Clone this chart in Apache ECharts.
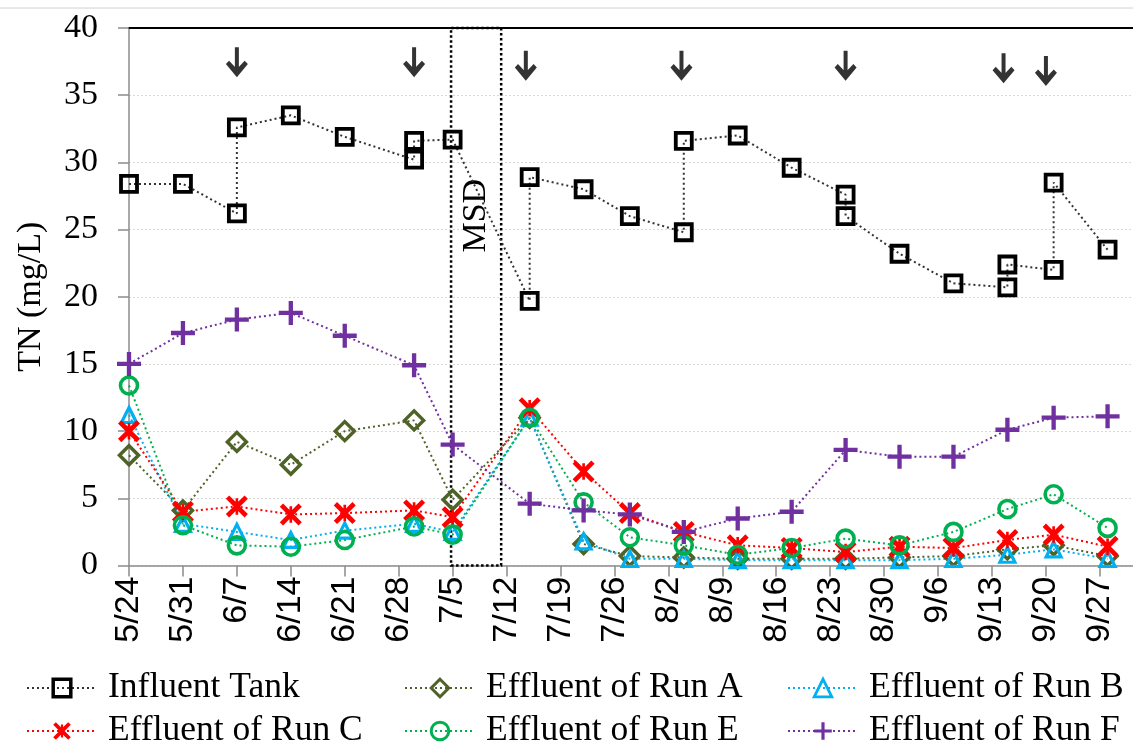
<!DOCTYPE html>
<html>
<head>
<meta charset="utf-8">
<script src="https://cdn.jsdelivr.net/npm/echarts@6/dist/echarts.min.js"></script>
<style>
  html, body { margin: 0; padding: 0; background: #ffffff; }
  #chart { width: 1133px; height: 749px; }
</style>
</head>
<body>
<div id="chart"></div>
<script>
// x positions are days counted from 5/24
const tickDays = [0, 7, 14, 21, 28, 35, 42, 49, 56, 63, 70, 77, 84, 91, 98, 105, 112, 119, 126];
const tickLabels = ['5/24', '5/31', '6/7', '6/14', '6/21', '6/28', '7/5', '7/12', '7/19', '7/26',
  '8/2', '8/9', '8/16', '8/23', '8/30', '9/6', '9/13', '9/20', '9/27'];

// influent tank: two samples on the days marked with an arrow
const influentDays = [0, 7, 14, 14, 21, 28, 37, 37, 42, 52, 52, 59, 65, 72, 72, 79, 86, 93, 93, 100, 107, 114, 114, 120, 120, 127];
const influentTN = [28.4, 28.4, 26.2, 32.6, 33.5, 31.9, 30.2, 31.6, 31.7, 19.7, 28.9, 28.0, 26.0, 24.8, 31.6,
  32.0, 29.6, 27.6, 26.0, 23.2, 21.0, 20.7, 22.4, 22.0, 28.5, 23.5];

// effluent sampling days
const effluentDays = [0, 7, 14, 21, 28, 37, 42, 52, 59, 65, 72, 79, 86, 93, 100, 107, 114, 120, 127];
const runA = [8.2, 4.1, 9.2, 7.5, 10.0, 10.8, 4.9, 11.0, 1.6, 0.7, 0.6, 0.5, 0.5, 0.5, 0.6, 0.7, 1.2, 1.5, 0.7];
const runB = [11.2, 3.1, 2.5, 1.9, 2.6, 3.1, 2.5, 11.0, 1.8, 0.5, 0.5, 0.4, 0.4, 0.4, 0.4, 0.5, 0.8, 1.2, 0.5];
const runC = [10.0, 4.0, 4.4, 3.8, 3.9, 4.1, 3.6, 11.7, 7.0, 3.9, 2.5, 1.5, 1.3, 1.0, 1.4, 1.3, 1.9, 2.3, 1.4];
const runE = [13.4, 3.0, 1.5, 1.4, 1.9, 2.9, 2.3, 11.0, 4.7, 2.1, 1.5, 0.8, 1.3, 2.0, 1.5, 2.5, 4.2, 5.3, 2.8];
const runF = [15.0, 17.3, 18.3, 18.8, 17.1, 14.9, 9.0, 4.6, 4.1, 3.8, 2.5, 3.5, 4.0, 8.6, 8.1, 8.1, 10.1, 11.0, 11.1];

// arrows above the double samples
const arrowDays = [14, 37, 51.5, 71.7, 93, 113.5, 119];
const arrowY = [37.45, 37.45, 37.2, 37.2, 37.2, 37.0, 36.8];

// MSD box
const msdRange = [41.8, 48.3];

const serif = 'Liberation Serif';
const sans = 'Liberation Sans';

const pairs = (xs, ys) => xs.map((x, i) => [x, ys[i]]);

const crossPath = 'path://M0,3 L3,0 L10,7 L17,0 L20,3 L13,10 L20,17 L17,20 L10,13 L3,20 L0,17 L7,10 Z M8.8,2.5 L11.2,2.5 L11.2,17.5 L8.8,17.5 Z';
const plusPath = 'path://M8.2,0 L11.8,0 L11.8,8.2 L20,8.2 L20,11.8 L11.8,11.8 L11.8,20 L8.2,20 L8.2,11.8 L0,11.8 L0,8.2 L8.2,8.2 Z';
const arrowPath = 'path://M9,0 L13,0 L13,26 L9,26 Z M0,16 L3.2,12.8 L11,20.6 L18.8,12.8 L22,16 L11,28.5 Z';

const hollow = (color, width) => ({ color: 'rgba(255,255,255,0)', borderColor: color, borderWidth: width });

function lineSeries(name, data, lineColor, symbol, size, itemStyle) {
  return {
    name: name,
    type: 'line',
    data: data,
    symbol: symbol,
    symbolSize: size,
    clip: false,
    lineStyle: { color: lineColor, width: 2, type: [2, 3] },
    itemStyle: itemStyle,
    emphasis: { disabled: true },
    z: 3
  };
}

const chart = echarts.init(document.getElementById('chart'));

// one legend per entry, laid out in 2 rows x 3 columns
const legendCols = [26, 404, 787];
const legendRows = [669, 712];
const legendNames = [
  ['Influent Tank', 'Effluent of Run A', 'Effluent of Run B'],
  ['Effluent of Run C', 'Effluent of Run E', 'Effluent of Run F']
];
// hollow markers get a heavier outline in the legend
const legendBorder = [[3.5, 3, 2.8], [0, 3, 0]];
const legends = [];
legendNames.forEach((row, r) => {
  row.forEach((name, c) => {
    const legend = {
      left: legendCols[c],
      top: legendRows[r],
      padding: 0,
      itemWidth: 70,
      itemHeight: 22,
      selectedMode: false,
      textStyle: { fontFamily: serif, fontSize: 35.5, color: '#000', lineHeight: 38, padding: [0, 0, 0, 6] },
      data: [name]
    };
    if (legendBorder[r][c]) legend.itemStyle = { borderWidth: legendBorder[r][c] };
    legends.push(legend);
  });
});

const option = {
  animation: false,
  backgroundColor: '#ffffff',
  grid: { left: 129, top: 28, right: 0, bottom: 183.5, containLabel: false },
  legend: legends,
  graphic: [
    { type: 'line', shape: { x1: 0, y1: 8, x2: 1133, y2: 8 }, style: { stroke: '#d0d0d0', lineWidth: 1 }, silent: true }
  ],
  xAxis: [
    {
      type: 'value',
      min: 0,
      max: 130.3,
      axisLine: { show: true, lineStyle: { color: '#8c8c8c', width: 1.5 } },
      axisTick: { show: true, length: 11, lineStyle: { color: '#8c8c8c', width: 1.5 }, customValues: tickDays },
      axisLabel: {
        customValues: tickDays,
        formatter: v => tickLabels[tickDays.indexOf(v)] || '',
        rotate: 90,
        margin: 11,
        fontFamily: sans,
        fontSize: 34,
        color: '#000'
      },
      splitLine: { show: false }
    },
    {
      type: 'value',
      position: 'top',
      min: 0,
      max: 130.3,
      axisLine: { show: true, lineStyle: { color: '#000', width: 2 } },
      axisTick: { show: false },
      axisLabel: { show: false },
      splitLine: { show: false }
    }
  ],
  yAxis: {
    type: 'value',
    min: 0,
    max: 40,
    interval: 5,
    name: 'TN (mg/L)',
    nameLocation: 'middle',
    nameRotate: 90,
    nameGap: 81,
    nameTextStyle: { fontFamily: serif, fontSize: 34, color: '#000' },
    axisLine: { show: true, lineStyle: { color: '#8c8c8c', width: 1.5 } },
    axisTick: { show: true, length: 11, lineStyle: { color: '#8c8c8c', width: 1.5 } },
    axisLabel: { margin: 31, fontFamily: serif, fontSize: 34, color: '#000' },
    splitLine: { show: true, lineStyle: { color: '#d9d9d9', width: 1, type: [2, 2] } }
  },
  series: [
    Object.assign(lineSeries('Influent Tank', pairs(influentDays, influentTN), '#333333', 'rect', 16, hollow('#000000', 3.8)), {
      markArea: {
        silent: true,
        itemStyle: { color: 'rgba(0,0,0,0)', borderColor: '#000', borderWidth: 2.5, borderType: [2.5, 2.5] },
        label: {
          show: true,
          position: ['50%', '35%'],
          rotate: 90,
          align: 'center',
          verticalAlign: 'middle',
          fontFamily: serif,
          fontSize: 34,
          color: '#000'
        },
        data: [[{ name: 'MSD', xAxis: msdRange[0], yAxis: 0 }, { xAxis: msdRange[1], yAxis: 40 }]]
      }
    }),
    lineSeries('Effluent of Run A', pairs(effluentDays, runA), '#4f6228', 'diamond', 19, hollow('#4f6228', 3.5)),
    lineSeries('Effluent of Run B', pairs(effluentDays, runB), '#00b0f0', 'triangle', 15, hollow('#00b0f0', 3.2)),
    lineSeries('Effluent of Run C', pairs(effluentDays, runC), '#ff0000', crossPath, 22, { color: '#ff0000' }),
    lineSeries('Effluent of Run E', pairs(effluentDays, runE), '#00b050', 'circle', 17, hollow('#00b050', 3.6)),
    lineSeries('Effluent of Run F', pairs(effluentDays, runF), '#7030a0', plusPath, 24, { color: '#7030a0' }),
    {
      name: 'arrows',
      type: 'scatter',
      data: pairs(arrowDays, arrowY),
      symbol: arrowPath,
      symbolSize: [22, 30],
      itemStyle: { color: '#000' },
      silent: true,
      z: 4
    }
  ]
};

chart.setOption(option);
</script>
</body>
</html>
